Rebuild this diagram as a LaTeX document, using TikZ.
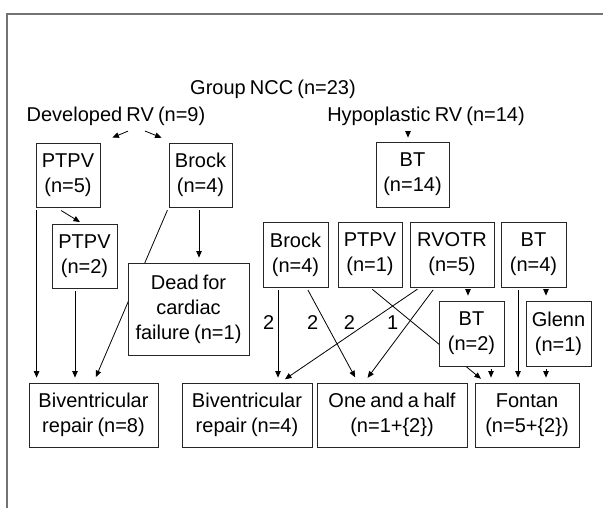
\documentclass[tikz,border=0pt]{standalone}
\usepackage{fontspec}
\setmainfont{Liberation Sans}[WordSpace=0.75]
\usetikzlibrary{positioning,arrows.meta}

\begin{document}
\begin{tikzpicture}[x=1pt,y=-1pt,
  every node/.style={font=\fontsize{20}{25}\selectfont},
  box/.style={draw=black!85,line width=0.8pt,fill=white,align=center,inner sep=0pt},
  arr/.style={-{Triangle[length=6.5pt,width=5.5pt]},line width=0.8pt,shorten <=3pt,shorten >=5pt},
  lab/.style={inner sep=0pt}
]
  \useasboundingbox (0,0) rectangle (603,508);
  \draw[black!55,line width=1.2pt] (7,508) -- (7,14) -- (603,14);

  % headings
  \node[inner sep=0pt] (ncc) at (273,89) {Group NCC (n=23)};
  \node[inner sep=0pt] (dev) at (116,116) {Developed RV (n=9)};
  \node[inner sep=0pt] (hyp) at (426,116) {Hypoplastic RV (n=14)};

  % developed RV branch
  \node[box,minimum width=64pt,minimum height=64pt] (ptpvA) at (68,175) {PTPV\\(n=5)};
  \node[box,minimum width=63pt,minimum height=64pt] (brockA) at (200.5,175) {Brock\\(n=4)};
  \node[box,minimum width=65pt,minimum height=64pt] (ptpvB) at (84.5,256) {PTPV\\(n=2)};

  % hypoplastic RV branch
  \node[box,minimum width=73pt,minimum height=65pt] (bt14) at (412.5,174.5) {BT\\(n=14)};
  \node[box,minimum width=65pt,minimum height=65pt] (brockB) at (295.5,254.5) {Brock\\(n=4)};
  \node[box,minimum width=64pt,minimum height=65pt] (ptpvC) at (370,254.5) {PTPV\\(n=1)};
  \node[box,minimum width=84pt,minimum height=65pt] (rvotr) at (452,254.5) {RVOTR\\(n=5)};
  \node[box,minimum width=65pt,minimum height=65pt] (btB) at (533.5,254.5) {BT\\(n=4)};
  \node[box,minimum width=65pt,minimum height=65pt] (glenn) at (558.5,333.5) {Glenn\\(n=1)};

  % outcomes
  \node[box,minimum width=129pt,minimum height=64pt] (bvA) at (93.5,415) {Biventricular\\repair (n=8)};
  \node[box,minimum width=130pt,minimum height=64pt] (bvB) at (247,415) {Biventricular\\repair (n=4)};
  \node[box,minimum width=150pt,minimum height=64pt] (half) at (392,415) {One and a half\\(n=1+\{2\})};
  \node[box,minimum width=104pt,minimum height=64pt] (fontan) at (527,415) {Fontan\\(n=5+\{2\})};

  % lines passing behind boxes
  \draw[arr,shorten >=6pt] (brockA.south west) -- (bvA.north);
  \draw[arr,shorten >=6pt] (ptpvC.south) -- ([xshift=11pt]fontan.north west);
  \node[box,minimum width=121pt,minimum height=92pt] (dead) at (188.5,309) {Dead for\\cardiac\\failure (n=1)};
  \node[box,minimum width=65pt,minimum height=65pt] (btC) at (471.5,333.5) {BT\\(n=2)};

  \draw[arr,shorten <=14.7pt,shorten >=13pt] ([xshift=25.6pt]dev.south) -- (ptpvA.north east);
  \draw[arr,shorten <=14.7pt,shorten >=13pt] ([xshift=15.4pt]dev.south) -- ([xshift=5pt]brockA.north west);
  \draw[arr,shorten <=5.5pt,shorten >=4pt] ([xshift=-4.5pt]bt14.north |- hyp.south) -- ([xshift=-4.5pt]bt14.north);
  \draw[arr,shorten <=6pt,shorten >=3pt] ([xshift=-12pt]ptpvA.south) -- ([xshift=-2pt]ptpvB.north);
  \draw[arr] ([xshift=1pt]ptpvA.south west) -- ([xshift=1pt]ptpvA.south west |- bvA.north);
  \draw[arr] ([xshift=-9.5pt]ptpvB.south) -- ([xshift=-9.5pt]ptpvB.south |- bvA.north);
  \draw[arr] ([xshift=-1.5pt]brockA.south) -- ([xshift=-1.5pt]brockA.south |- dead.north);

  \draw[arr] ([xshift=-17.5pt]brockB.south) -- node[lab,pos=0.365,left=3.4pt] {2}
    ([xshift=-17.5pt]brockB.south |- bvB.north);
  \draw[arr,shorten >=6pt] ([xshift=11pt]brockB.south) -- node[lab,pos=0.365,left=6.6pt] {2}
    ([xshift=-34pt]half.north);
  \draw[arr,shorten >=6pt] ([xshift=-32pt]rvotr.south) -- node[lab,pos=0.365,left=13.4pt] {2}
    ([xshift=33pt]bvB.north);
  \draw[arr,shorten >=6pt] ([xshift=-17pt]rvotr.south) -- node[lab,pos=0.365,left=10.4pt] {1}
    ([xshift=-28pt]half.north);
  \draw[arr] ([xshift=16pt]rvotr.south) -- ([xshift=16pt]rvotr.south |- btC.north);
  \draw[arr] ([xshift=19.5pt]btC.south) -- ([xshift=19.5pt]btC.south |- fontan.north);
  \draw[arr] ([xshift=-15.5pt]btB.south) -- ([xshift=-15.5pt]btB.south |- fontan.north);
  \draw[arr] ([xshift=12.5pt]btB.south) -- ([xshift=12.5pt]btB.south |- glenn.north);
  \draw[arr] ([xshift=-12.5pt]glenn.south) -- ([xshift=-12.5pt]glenn.south |- fontan.north);
\end{tikzpicture}
\end{document}
